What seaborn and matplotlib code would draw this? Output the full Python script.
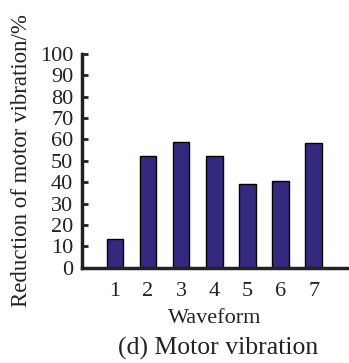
import matplotlib
matplotlib.use("Agg")
import matplotlib.pyplot as plt
import seaborn as sns
import pandas as pd

waveforms = ["1", "2", "3", "4", "5", "6", "7"]
reduction = [13.5, 52.5, 59.0, 52.5, 39.0, 40.5, 58.5]
y_ticks = [0, 10, 20, 30, 40, 50, 60, 70, 80, 90, 100]

sns.set_theme(style="ticks")
plt.rcParams["font.family"] = ["Liberation Serif", "DejaVu Serif"]
plt.rcParams["text.color"] = "#222222"

df = pd.DataFrame({"Waveform": waveforms, "Reduction": reduction})

fig = plt.figure(figsize=(3.49, 3.63), dpi=100)
ax = fig.add_axes([0.234, 0.2625, 0.760, 0.5887])

sns.barplot(data=df, x="Waveform", y="Reduction", color="#33297f",
            saturation=1, width=0.5, edgecolor="black", linewidth=1.0, ax=ax)

ax.set_xlim(-1, 7)
ax.set_ylim(0, 100)
ax.set_yticks(y_ticks)
ax.set_yticklabels([str(v) for v in y_ticks])

for side in ["top", "right"]:
    ax.spines[side].set_visible(False)
for side in ["left", "bottom"]:
    ax.spines[side].set_linewidth(2.5)
    ax.spines[side].set_color("#222222")
    ax.spines[side].set_capstyle("projecting")

ax.tick_params(axis="both", direction="in", length=4, width=2,
               color="#222222", labelsize=16, labelcolor="#222222")
ax.tick_params(axis="y", pad=6)
ax.tick_params(axis="x", pad=10)

ax.set_xlabel("Waveform", fontsize=16, labelpad=6, color="#222222")
ax.set_ylabel("Reduction of motor vibration/%", fontsize=16.5, labelpad=6,
              color="#222222")

fig.text(0.625, 0.022, "(d) Motor vibration", ha="center", va="baseline",
         fontsize=18.5, color="#222222")

fig.savefig("out.png", dpi=100)
